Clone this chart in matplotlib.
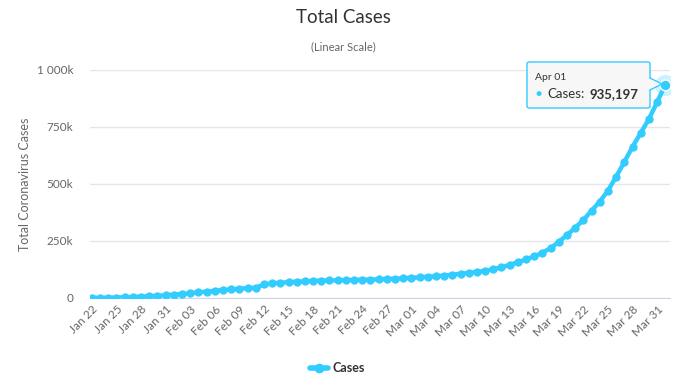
import matplotlib
matplotlib.use("Agg")
import matplotlib.pyplot as plt
import numpy as np
from matplotlib.patches import FancyBboxPatch, Polygon
from matplotlib.lines import Line2D

plt.rcParams["font.family"] = ["Lato", "DejaVu Sans"]

# daily dates Jan 22 .. Apr 01
months = ["Jan"] * 10 + ["Feb"] * 29 + ["Mar"] * 31 + ["Apr"]
days = list(range(22, 32)) + list(range(1, 30)) + list(range(1, 32)) + [1]
dates = [f"{m} {d:02d}" for m, d in zip(months, days)]

cases = [
    580, 845, 1317, 2015, 2800, 4581, 6058, 7813, 9823, 11950,
    14553, 17391, 20630, 24545, 28266, 31439, 34876, 37552, 40553, 43099,
    45134, 59287, 64438, 67100, 69197, 71329, 73332, 75184, 75700, 76677,
    77673, 78651, 79205, 80087, 80828, 81820, 83112, 84615, 86604,
    88585, 90443, 93016, 95314, 98425, 102050, 106099, 109991, 114381, 118948,
    126214, 134576, 145483, 156653, 169593, 182490, 198238, 218822, 246417, 275875,
    308463, 341365, 383124, 422574, 471035, 531865, 596366, 663127, 723390, 784794,
    858371, 935197,
]

yticks = [0, 250000, 500000, 750000, 1000000]
ytick_labels = ["0", "250k", "500k", "750k", "1 000k"]

blue = "#33ccff"
grey_text = "#666666"

fig = plt.figure(figsize=(6.86, 3.86), dpi=100)
ax = fig.add_axes([0.131, 0.228, 0.846, 0.591])

x = np.arange(len(cases))
ax.plot(x, cases, color=blue, linewidth=3.2, marker="o", markersize=6,
        markeredgewidth=0, zorder=3, solid_capstyle="round")
# hover halo on last point
ax.scatter([x[-1]], [cases[-1]], s=230, color=blue, alpha=0.25,
           linewidths=0, zorder=4)
ax.scatter([x[-1]], [cases[-1]], s=60, color=blue, edgecolors="white",
           linewidths=1, zorder=5)

ax.set_ylim(0, 1000000)
ax.set_xlim(-0.25, 70.6)
ax.set_yticks(yticks)
ax.set_yticklabels(ytick_labels)
ax.set_xticks(x[::3])
ax.set_xticklabels(dates[::3], rotation=45, ha="right", rotation_mode="anchor")
ax.tick_params(axis="y", length=0, pad=12, labelsize=8.5, labelcolor=grey_text)
ax.tick_params(axis="x", length=0, pad=4, labelsize=8.5, labelcolor=grey_text)

ax.grid(axis="y", color="#e6e6e6", linewidth=1)
ax.set_axisbelow(True)
for side in ["top", "right", "left"]:
    ax.spines[side].set_visible(False)
ax.spines["bottom"].set_color("#ccd6eb")
ax.spines["bottom"].set_zorder(1)

ax.set_ylabel("Total Coronavirus Cases", fontsize=9, color=grey_text, labelpad=4)

fig.text(0.5, 0.955, "Total Cases", ha="center", va="center",
         fontsize=13.5, color="#333333")
fig.text(0.5, 0.88, "(Linear Scale)", ha="center", va="center",
         fontsize=8, color=grey_text)

# legend
fig.add_artist(Line2D([0.452, 0.478], [0.047, 0.047], transform=fig.transFigure,
                      color=blue, linewidth=4, solid_capstyle="round"))
fig.add_artist(Line2D([0.465], [0.047], transform=fig.transFigure,
                      color=blue, marker="o", markersize=7, markeredgewidth=0))
fig.text(0.485, 0.047, "Cases", ha="left", va="center", fontsize=9,
         fontweight="bold", color="#333333")

# tooltip
W, H = 686, 386
bx0, by0, bx1, by1 = 527, 62, 650, 108
box = FancyBboxPatch((bx0 / W, 1 - by1 / H), (bx1 - bx0) / W, (by1 - by0) / H,
                     boxstyle="round,pad=0,rounding_size=0.004",
                     transform=fig.transFigure, facecolor="#f7f7f7",
                     edgecolor=blue, linewidth=1, zorder=10)
fig.add_artist(box)
pointer = Polygon([(649 / W, 1 - 78 / H), (662 / W, 1 - 84 / H), (649 / W, 1 - 90 / H)],
                  closed=True, transform=fig.transFigure, facecolor="#f7f7f7",
                  edgecolor="none", zorder=11)
fig.add_artist(pointer)
fig.add_artist(Line2D([650 / W, 662 / W, 650 / W], [1 - 78 / H, 1 - 84 / H, 1 - 90 / H],
                      transform=fig.transFigure, color=blue, linewidth=1, zorder=12))
fig.text(535 / W, 1 - 77 / H, dates[-1], fontsize=7.5, color="#333333",
         va="center", ha="left", zorder=13)
fig.text(535 / W, 1 - 94 / H, "\u25cf", fontsize=7.5, color=blue,
         va="center", ha="left", zorder=13)
fig.text(547 / W, 1 - 94 / H, "Cases:", fontsize=9.5, color="#333333",
         va="center", ha="left", zorder=13)
fig.text(589 / W, 1 - 94 / H, f"{cases[-1]:,}", fontsize=9.5, color="#333333",
         fontweight="bold", va="center", ha="left", zorder=13)

fig.savefig("out.png", dpi=100)
